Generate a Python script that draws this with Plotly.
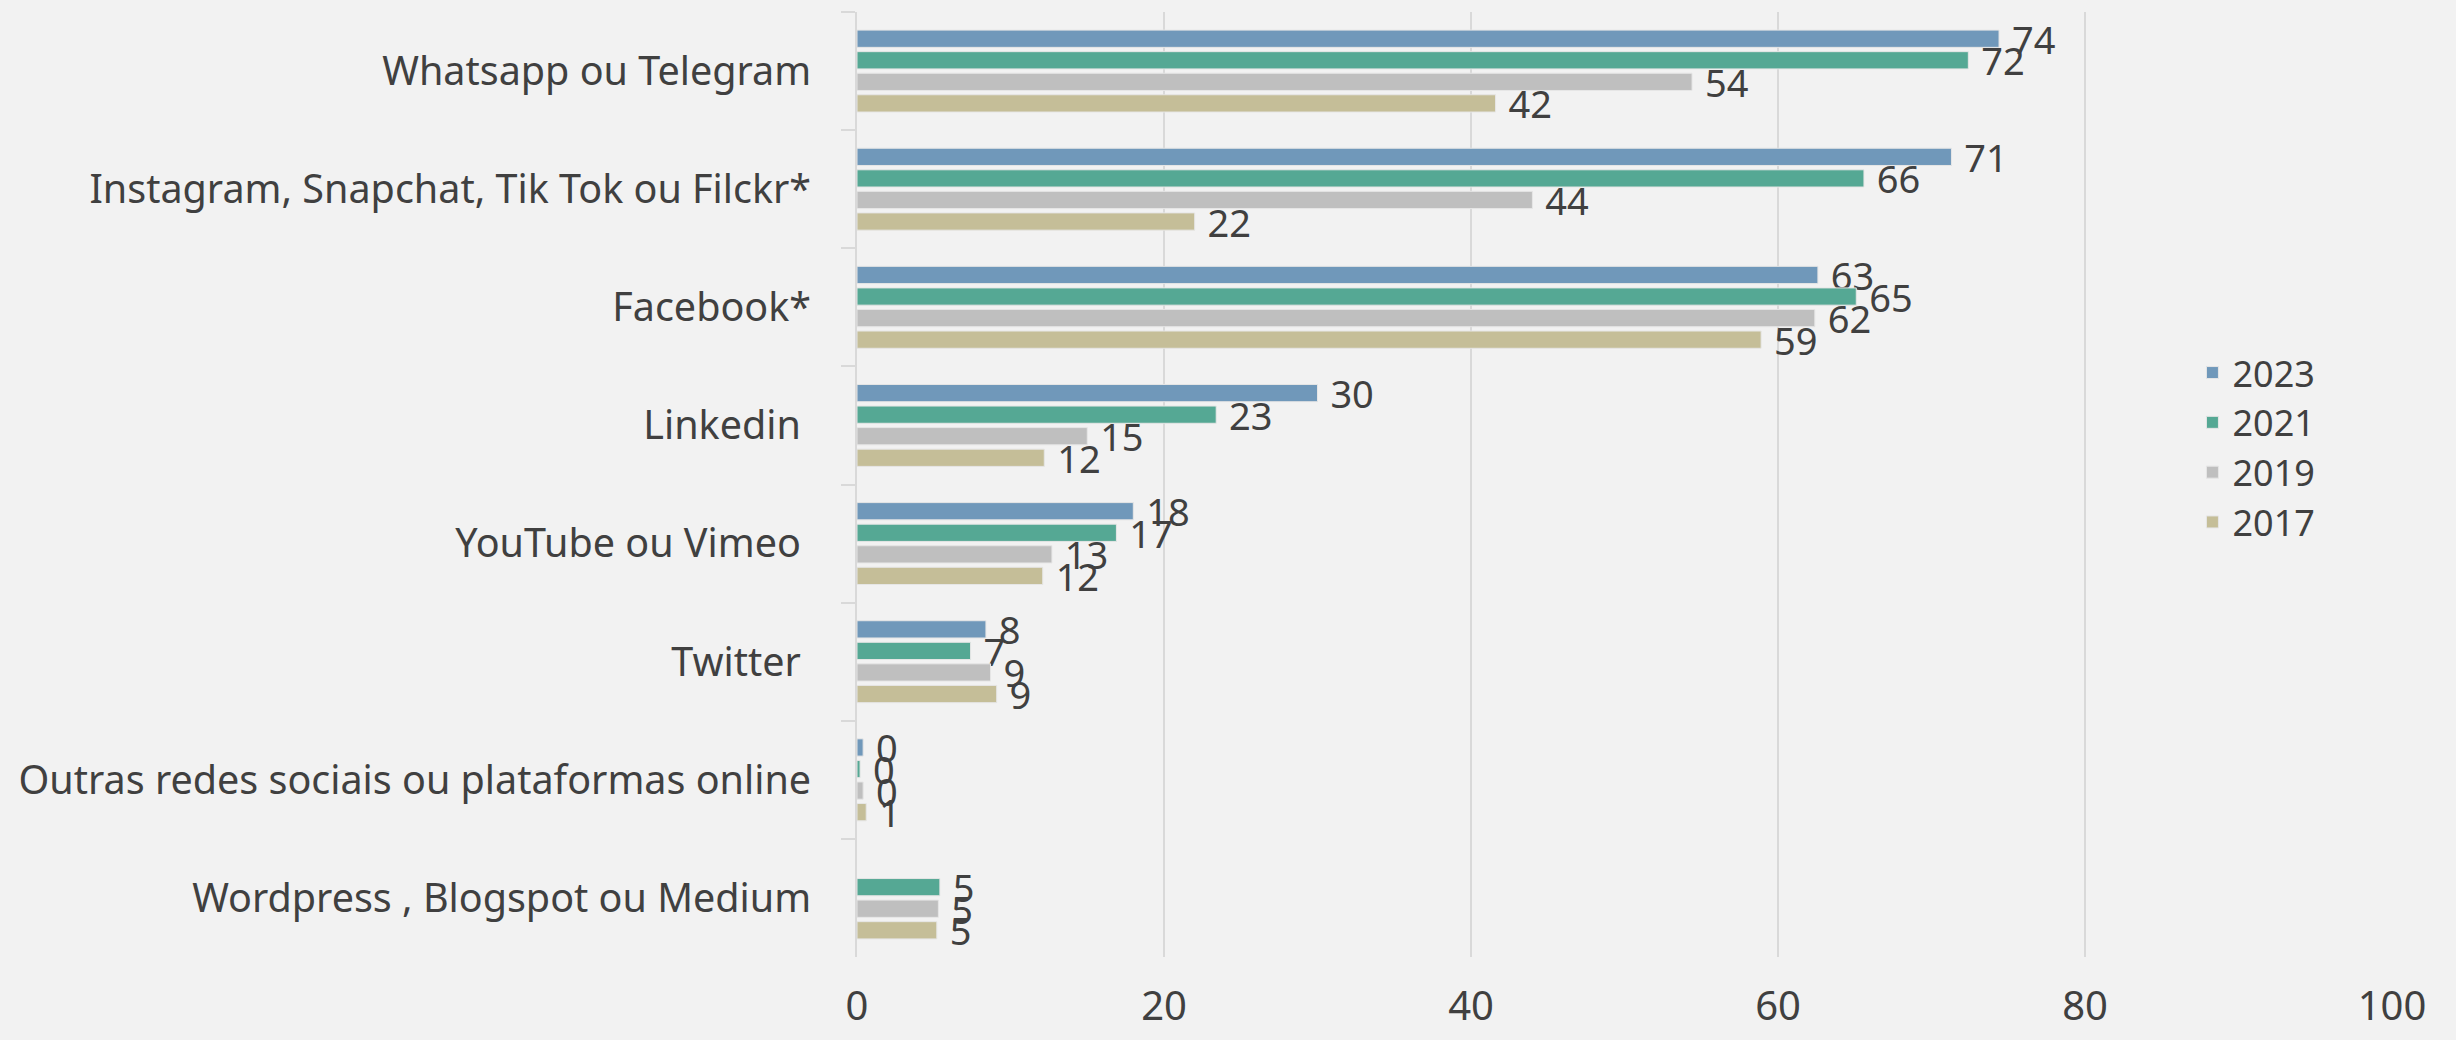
import plotly.graph_objects as go

# categorias (de cima para baixo)
categorias = [
    "Whatsapp ou Telegram",
    "Instagram, Snapchat, Tik Tok ou Filckr*",
    "Facebook*",
    "Linkedin ",
    "YouTube ou Vimeo ",
    "Twitter ",
    "Outras redes sociais ou plataformas online",
    "Wordpress , Blogspot ou Medium",
]

anos = ["2023", "2021", "2019", "2017"]

v2023 = [74.4, 71.3, 62.6, 30.0, 18.0, 8.4, 0.4, None]
v2021 = [72.4, 65.6, 65.1, 23.4, 16.9, 7.4, 0.2, 5.4]
v2019 = [54.4, 44.0, 62.4, 15.0, 12.7, 8.7, 0.4, 5.3]
v2017 = [41.6, 22.0, 58.9, 12.2, 12.1, 9.1, 0.6, 5.2]

x_ticks = [0, 20, 40, 60, 80, 100]

cores = ["#7098BA", "#55A894", "#BFBFBF", "#C5BE98"]
txt = "#404040"
fonte = "Noto Sans, Open Sans, sans-serif"

fig = go.Figure()
for ano, vals, cor in zip(anos, [v2023, v2021, v2019, v2017], cores):
    fig.add_trace(go.Bar(
        name=ano, y=categorias, x=vals, orientation="h",
        marker=dict(color=cor, line=dict(color="#e6e6e6", width=1)),
        texttemplate=" %{x:.0f}", textposition="outside", textangle=0,
        constraintext="none", cliponaxis=False,
        textfont=dict(size=38, color=txt, family=fonte),
    ))

fig.update_layout(
    barmode="group", bargap=0.27, bargroupgap=0.2,
    width=2456, height=1040,
    margin=dict(l=857, r=64, t=12, b=83),
    paper_bgcolor="#F2F2F2", plot_bgcolor="#F2F2F2",
    font=dict(family=fonte, color=txt),
    legend=dict(x=0.87, y=0.539, xanchor="left", yanchor="middle",
                font=dict(size=36, color=txt), bgcolor="rgba(0,0,0,0)"),
)
fig.update_xaxes(range=[0, 100], tickvals=x_ticks, showgrid=True,
                 gridcolor="#D9D9D9", gridwidth=2, zeroline=False,
                 tickfont=dict(size=40, color=txt), ticklabelstandoff=22,
                 automargin=False)
fig.update_yaxes(autorange="reversed", showline=True, linecolor="#D9D9D9",
                 linewidth=2, ticks="outside", tickson="boundaries",
                 ticklen=14, tickcolor="#D9D9D9", tickwidth=2,
                 tickfont=dict(size=39.5, color=txt), ticklabelstandoff=36,
                 automargin=False)

fig.write_html("out.html", config={"displayModeBar": False},
               post_script="document.body.style.margin='0';")
